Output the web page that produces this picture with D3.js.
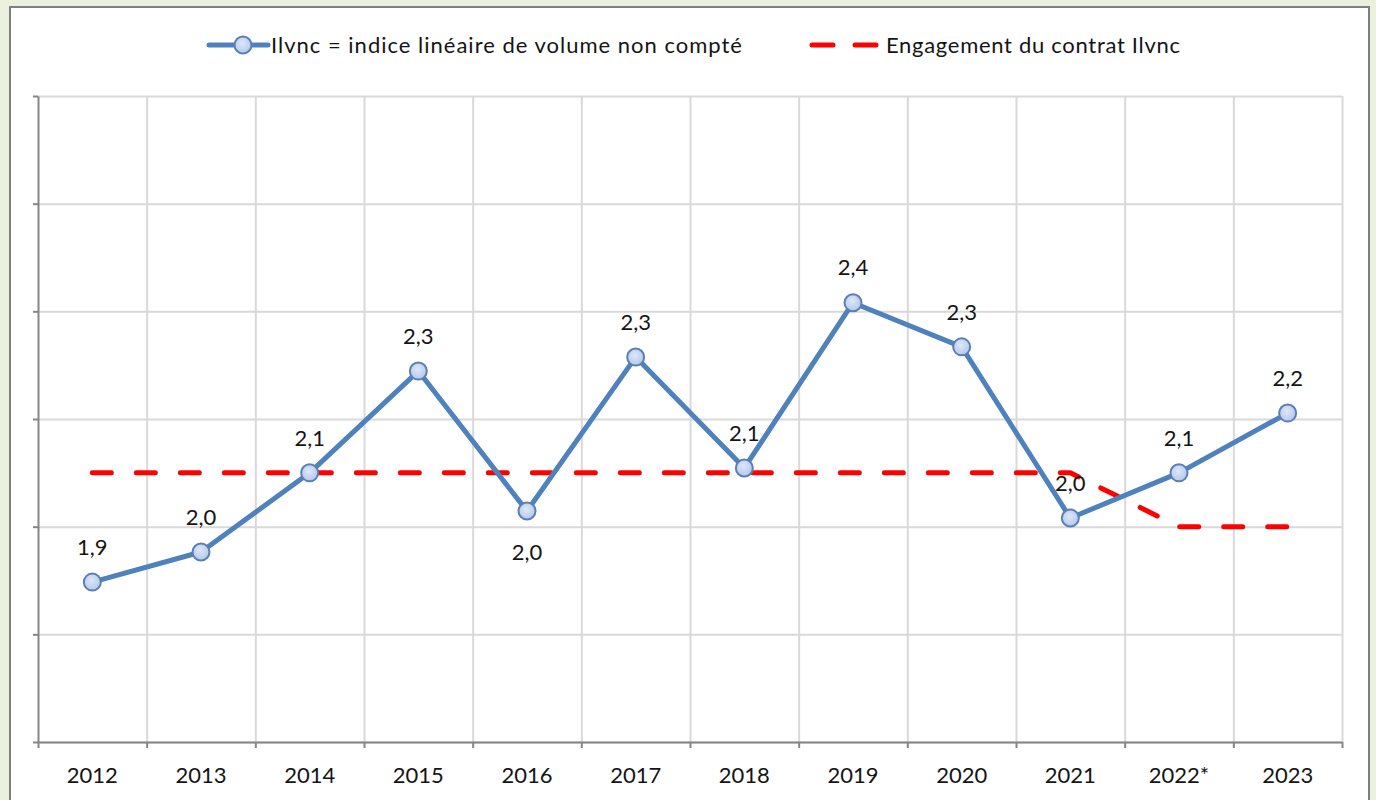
<!DOCTYPE html>
<html>
<head>
<meta charset="utf-8">
<script src="https://cdn.jsdelivr.net/npm/d3@7"></script>
<style>
  html, body { margin: 0; padding: 0; background: #ebf1de; }
  svg { display: block; }
  text { font-family: Lato, "Open Sans", sans-serif; fill: #141414; }
</style>
</head>
<body>
<svg id="chart" width="1376" height="800"></svg>
<script>
// Years on the category axis
const categories = ["2012", "2013", "2014", "2015", "2016", "2017", "2018", "2019", "2020", "2021", "2022*", "2023"];
// Ilvnc: linear index of unaccounted volume
const ilvnc = [1.897, 1.953, 2.100, 2.289, 2.029, 2.315, 2.109, 2.416, 2.334, 2.016, 2.100, 2.211];
// Contractual commitment for Ilvnc
const engagement = [2.1, 2.1, 2.1, 2.1, 2.1, 2.1, 2.1, 2.1, 2.1, 2.1, 2.0, 2.0];
// Y gridline values (no labels shown)
const yTicks = [1.6, 1.8, 2.0, 2.2, 2.4, 2.6, 2.8];
// Which labels go below their point
const labelBelow = ["2016"];

const seriesNames = ["Ilvnc = indice linéaire de volume non compté", "Engagement du contrat Ilvnc"];

const svg = d3.select("#chart");
const W = 1376, H = 800;
const plot = { left: 38, right: 1342, top: 96, bottom: 742 };

// Panel
svg.append("rect").attr("x", 0).attr("y", 0).attr("width", W).attr("height", H).attr("fill", "#ebf1de");
svg.append("rect").attr("x", 10).attr("y", 7).attr("width", 1359).attr("height", 820)
  .attr("fill", "#ffffff").attr("stroke", "#7f7f7f").attr("stroke-width", 2);

const x = d3.scaleBand().domain(categories).range([plot.left, plot.right]).padding(0);
const cx = d => x(d) + x.bandwidth() / 2;
const y = d3.scaleLinear().domain([1.6, 2.8]).range([plot.bottom, plot.top]);
const xb = d3.scaleLinear().domain([0, categories.length]).range([plot.left, plot.right]);

// Horizontal gridlines
svg.append("g").attr("transform", `translate(${plot.left},0)`)
  .call(d3.axisLeft(y).tickValues(yTicks).tickFormat("").tickSize(-(plot.right - plot.left)).tickSizeOuter(0))
  .call(g => g.select(".domain").remove())
  .call(g => g.selectAll("line").attr("stroke", "#d9d9d9").attr("stroke-width", 2));

// Vertical gridlines at category boundaries
svg.append("g").attr("transform", `translate(0,${plot.top})`)
  .call(d3.axisBottom(xb).tickValues(d3.range(1, categories.length + 1)).tickFormat("").tickSize(plot.bottom - plot.top).tickSizeOuter(0))
  .call(g => g.select(".domain").remove())
  .call(g => g.selectAll("line").attr("stroke", "#d9d9d9").attr("stroke-width", 2));

// Y axis (line and small ticks)
svg.append("g").attr("transform", `translate(${plot.left},0)`)
  .call(d3.axisLeft(y).tickValues(yTicks).tickFormat("").tickSize(5).tickSizeOuter(0))
  .call(g => g.selectAll("line, path").attr("stroke", "#868686").attr("stroke-width", 2));

// X axis with boundary ticks
svg.append("g").attr("transform", `translate(0,${plot.bottom})`)
  .call(d3.axisBottom(xb).tickValues(d3.range(0, categories.length + 1)).tickFormat("").tickSize(6).tickSizeOuter(0))
  .call(g => g.selectAll("line, path").attr("stroke", "#868686").attr("stroke-width", 2));

// Category labels
svg.append("g").selectAll("text").data(categories).join("text")
  .attr("x", d => cx(d)).attr("y", 775).attr("dy", "0.35em")
  .attr("text-anchor", "middle").attr("font-size", 22).text(d => d);

// Engagement dashed line
const lineGen = d3.line().x((d, i) => cx(categories[i])).y(d => y(d));
svg.append("path").datum(engagement).attr("d", lineGen)
  .attr("fill", "none").attr("stroke", "#ff0000").attr("stroke-width", 5)
  .attr("stroke-dasharray", "19,25").attr("stroke-linecap", "round");

// Ilvnc line
svg.append("path").datum(ilvnc).attr("d", lineGen)
  .attr("fill", "none").attr("stroke", "#4f81bd").attr("stroke-width", 5).attr("stroke-linejoin", "round");

// Marker gradient
const defs = svg.append("defs");
const grad = defs.append("radialGradient").attr("id", "mk").attr("cx", "45%").attr("cy", "40%").attr("r", "60%");
grad.append("stop").attr("offset", "0%").attr("stop-color", "#dde7f7");
grad.append("stop").attr("offset", "100%").attr("stop-color", "#b3c8ec");

svg.append("g").selectAll("circle").data(ilvnc).join("circle")
  .attr("cx", (d, i) => cx(categories[i])).attr("cy", d => y(d)).attr("r", 8.5)
  .attr("fill", "url(#mk)").attr("stroke", "#5b7fb3").attr("stroke-width", 2);

// Data labels
const fmt = v => d3.format(".1f")(v).replace(".", ",");
svg.append("g").selectAll("text").data(ilvnc).join("text")
  .attr("x", (d, i) => cx(categories[i]))
  .attr("y", (d, i) => y(d) + (labelBelow.includes(categories[i]) ? 41 : -35))
  .attr("dy", "0.35em").attr("text-anchor", "middle").attr("font-size", 22)
  .text(d => fmt(d));

// Legend
const lg = svg.append("g");
lg.append("line").attr("x1", 209).attr("x2", 268).attr("y1", 45).attr("y2", 45)
  .attr("stroke", "#4f81bd").attr("stroke-width", 5).attr("stroke-linecap", "round");
lg.append("circle").attr("cx", 243).attr("cy", 45).attr("r", 8.5)
  .attr("fill", "url(#mk)").attr("stroke", "#5b7fb3").attr("stroke-width", 2);
lg.append("text").attr("x", 271).attr("y", 45).attr("dy", "0.35em").attr("font-size", 22)
  .attr("letter-spacing", 1).text(seriesNames[0]);
[[812, 833], [855, 876]].forEach(([a, b]) => {
  lg.append("line").attr("x1", a).attr("x2", b).attr("y1", 45).attr("y2", 45)
    .attr("stroke", "#ff0000").attr("stroke-width", 5).attr("stroke-linecap", "round");
});
lg.append("text").attr("x", 886).attr("y", 45).attr("dy", "0.35em").attr("font-size", 22)
  .attr("letter-spacing", 0.7).text(seriesNames[1]);
</script>
</body>
</html>
